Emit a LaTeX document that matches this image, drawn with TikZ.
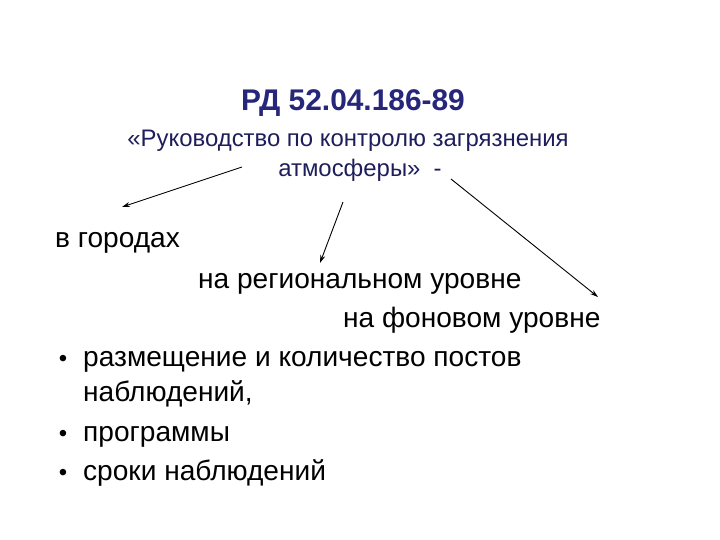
\documentclass[tikz,border=0pt]{standalone}
\usepackage{fontspec}
\setmainfont{Liberation Sans}
\usetikzlibrary{arrows.meta}
\definecolor{titleblue}{HTML}{26267A}
\definecolor{subblue}{HTML}{1E1E5C}
\tikzset{
  txt/.style={anchor=base west, inner sep=0pt, font=\fontsize{28.2}{33}\selectfont},
  ttl/.style={anchor=base, inner sep=0pt, text=titleblue, font=\fontsize{30}{35}\selectfont\bfseries},
  sub/.style={anchor=base, inner sep=0pt, text=subblue, font=\fontsize{24}{28}\selectfont},
  arr/.style={-{Stealth[length=8bp,width=5bp]}, line width=0.9bp, black},
  bul/.style={anchor=base, inner sep=0pt, font=\fontsize{24}{28}\selectfont}
}
\begin{document}
\begin{tikzpicture}[x=1bp,y=-1bp]
\useasboundingbox[fill=white] (0,0) rectangle (720,540);
\node[ttl] (title) at (353,111) {РД 52.04.186-89};
\node[sub] (sub1) at (348,147) {«Руководство по контролю загрязнения};
\node[sub] (sub2) at (360,177) {атмосферы»\ \ -};
\node[txt] (gor) at (55,248) {в городах};
\node[txt] (reg) at (198,288) {на региональном уровне};
\node[txt] (fon) at (343,327) {на фоновом уровне};
\node[bul] (b1) at (63,366) {•};
\node[txt] (p1) at (83,366) {размещение и количество постов};
\node[txt] (p1b) at (83,401) {наблюдений,};
\node[bul] (b2) at (63,441) {•};
\node[txt] (p2) at (83,441) {программы};
\node[bul] (b3) at (63,480) {•};
\node[txt] (p3) at (83,480) {сроки наблюдений};
\coordinate (s1) at (242,167);
\coordinate (e1) at (122,207);
\coordinate (s2) at (343,202);
\coordinate (e2) at (320,263);
\coordinate (s3) at (451,179);
\coordinate (e3) at (598,297);
\draw[arr] (s1) -- (e1);
\draw[arr] (s2) -- (e2);
\draw[arr] (s3) -- (e3);
\end{tikzpicture}
\end{document}
